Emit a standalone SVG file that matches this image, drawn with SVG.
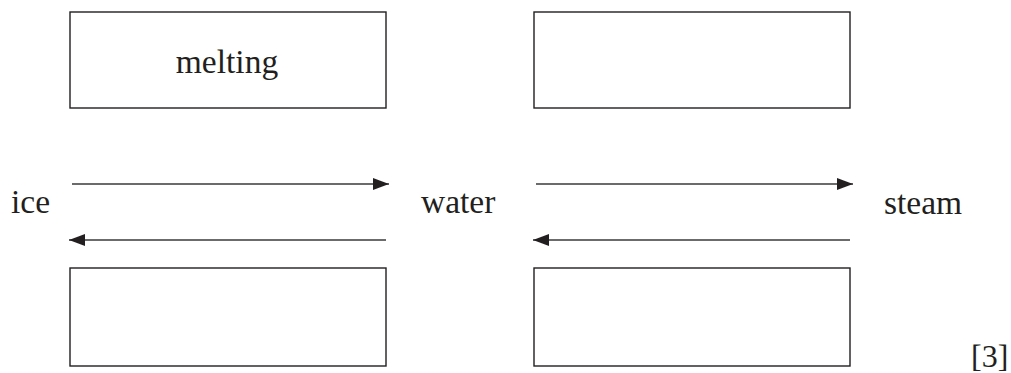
<svg xmlns="http://www.w3.org/2000/svg" width="1011" height="373" viewBox="0 0 1011 373">
  <style>
    .box { fill: #fff; stroke: #231f20; stroke-width: 1.4; }
    .lbl { font-family: "Liberation Serif", "Times New Roman", serif; font-size: 33.5px; fill: #231f20; }
    .mark { font-family: "Liberation Serif", "Times New Roman", serif; font-size: 32px; fill: #231f20; }
    .arrow { stroke: #3a3a3a; stroke-width: 1.6; fill: none; }
  </style>
  <defs>
    <marker id="head" markerUnits="userSpaceOnUse" markerWidth="16" markerHeight="12" refX="16" refY="6" orient="auto">
      <path d="M0,0 L16,6 L0,12 Z" fill="#231f20"/>
    </marker>
  </defs>
  <rect width="1011" height="373" fill="#fff"/>

  <g id="box-melting">
    <rect class="box" x="70" y="12" width="316" height="96"/>
    <text class="lbl" x="227" y="73" text-anchor="middle">melting</text>
  </g>
  <g id="box-top-right">
    <rect class="box" x="534" y="12" width="316" height="96"/>
  </g>
  <g id="box-bottom-left">
    <rect class="box" x="70" y="268" width="316" height="98"/>
  </g>
  <g id="box-bottom-right">
    <rect class="box" x="534" y="268" width="316" height="98"/>
  </g>

  <g id="ice"><text class="lbl" x="11" y="213">ice</text></g>
  <g id="water"><text class="lbl" x="421" y="213">water</text></g>
  <g id="steam"><text class="lbl" x="884" y="214">steam</text></g>
  <g id="marks"><text class="mark" x="971" y="367">[3]</text></g>

  <g id="connectors">
    <line class="arrow" x1="72" y1="184" x2="389" y2="184" marker-end="url(#head)"/>
    <line class="arrow" x1="386" y1="240" x2="69" y2="240" marker-end="url(#head)"/>
    <line class="arrow" x1="536" y1="184" x2="853" y2="184" marker-end="url(#head)"/>
    <line class="arrow" x1="850" y1="240" x2="533" y2="240" marker-end="url(#head)"/>
  </g>
</svg>
